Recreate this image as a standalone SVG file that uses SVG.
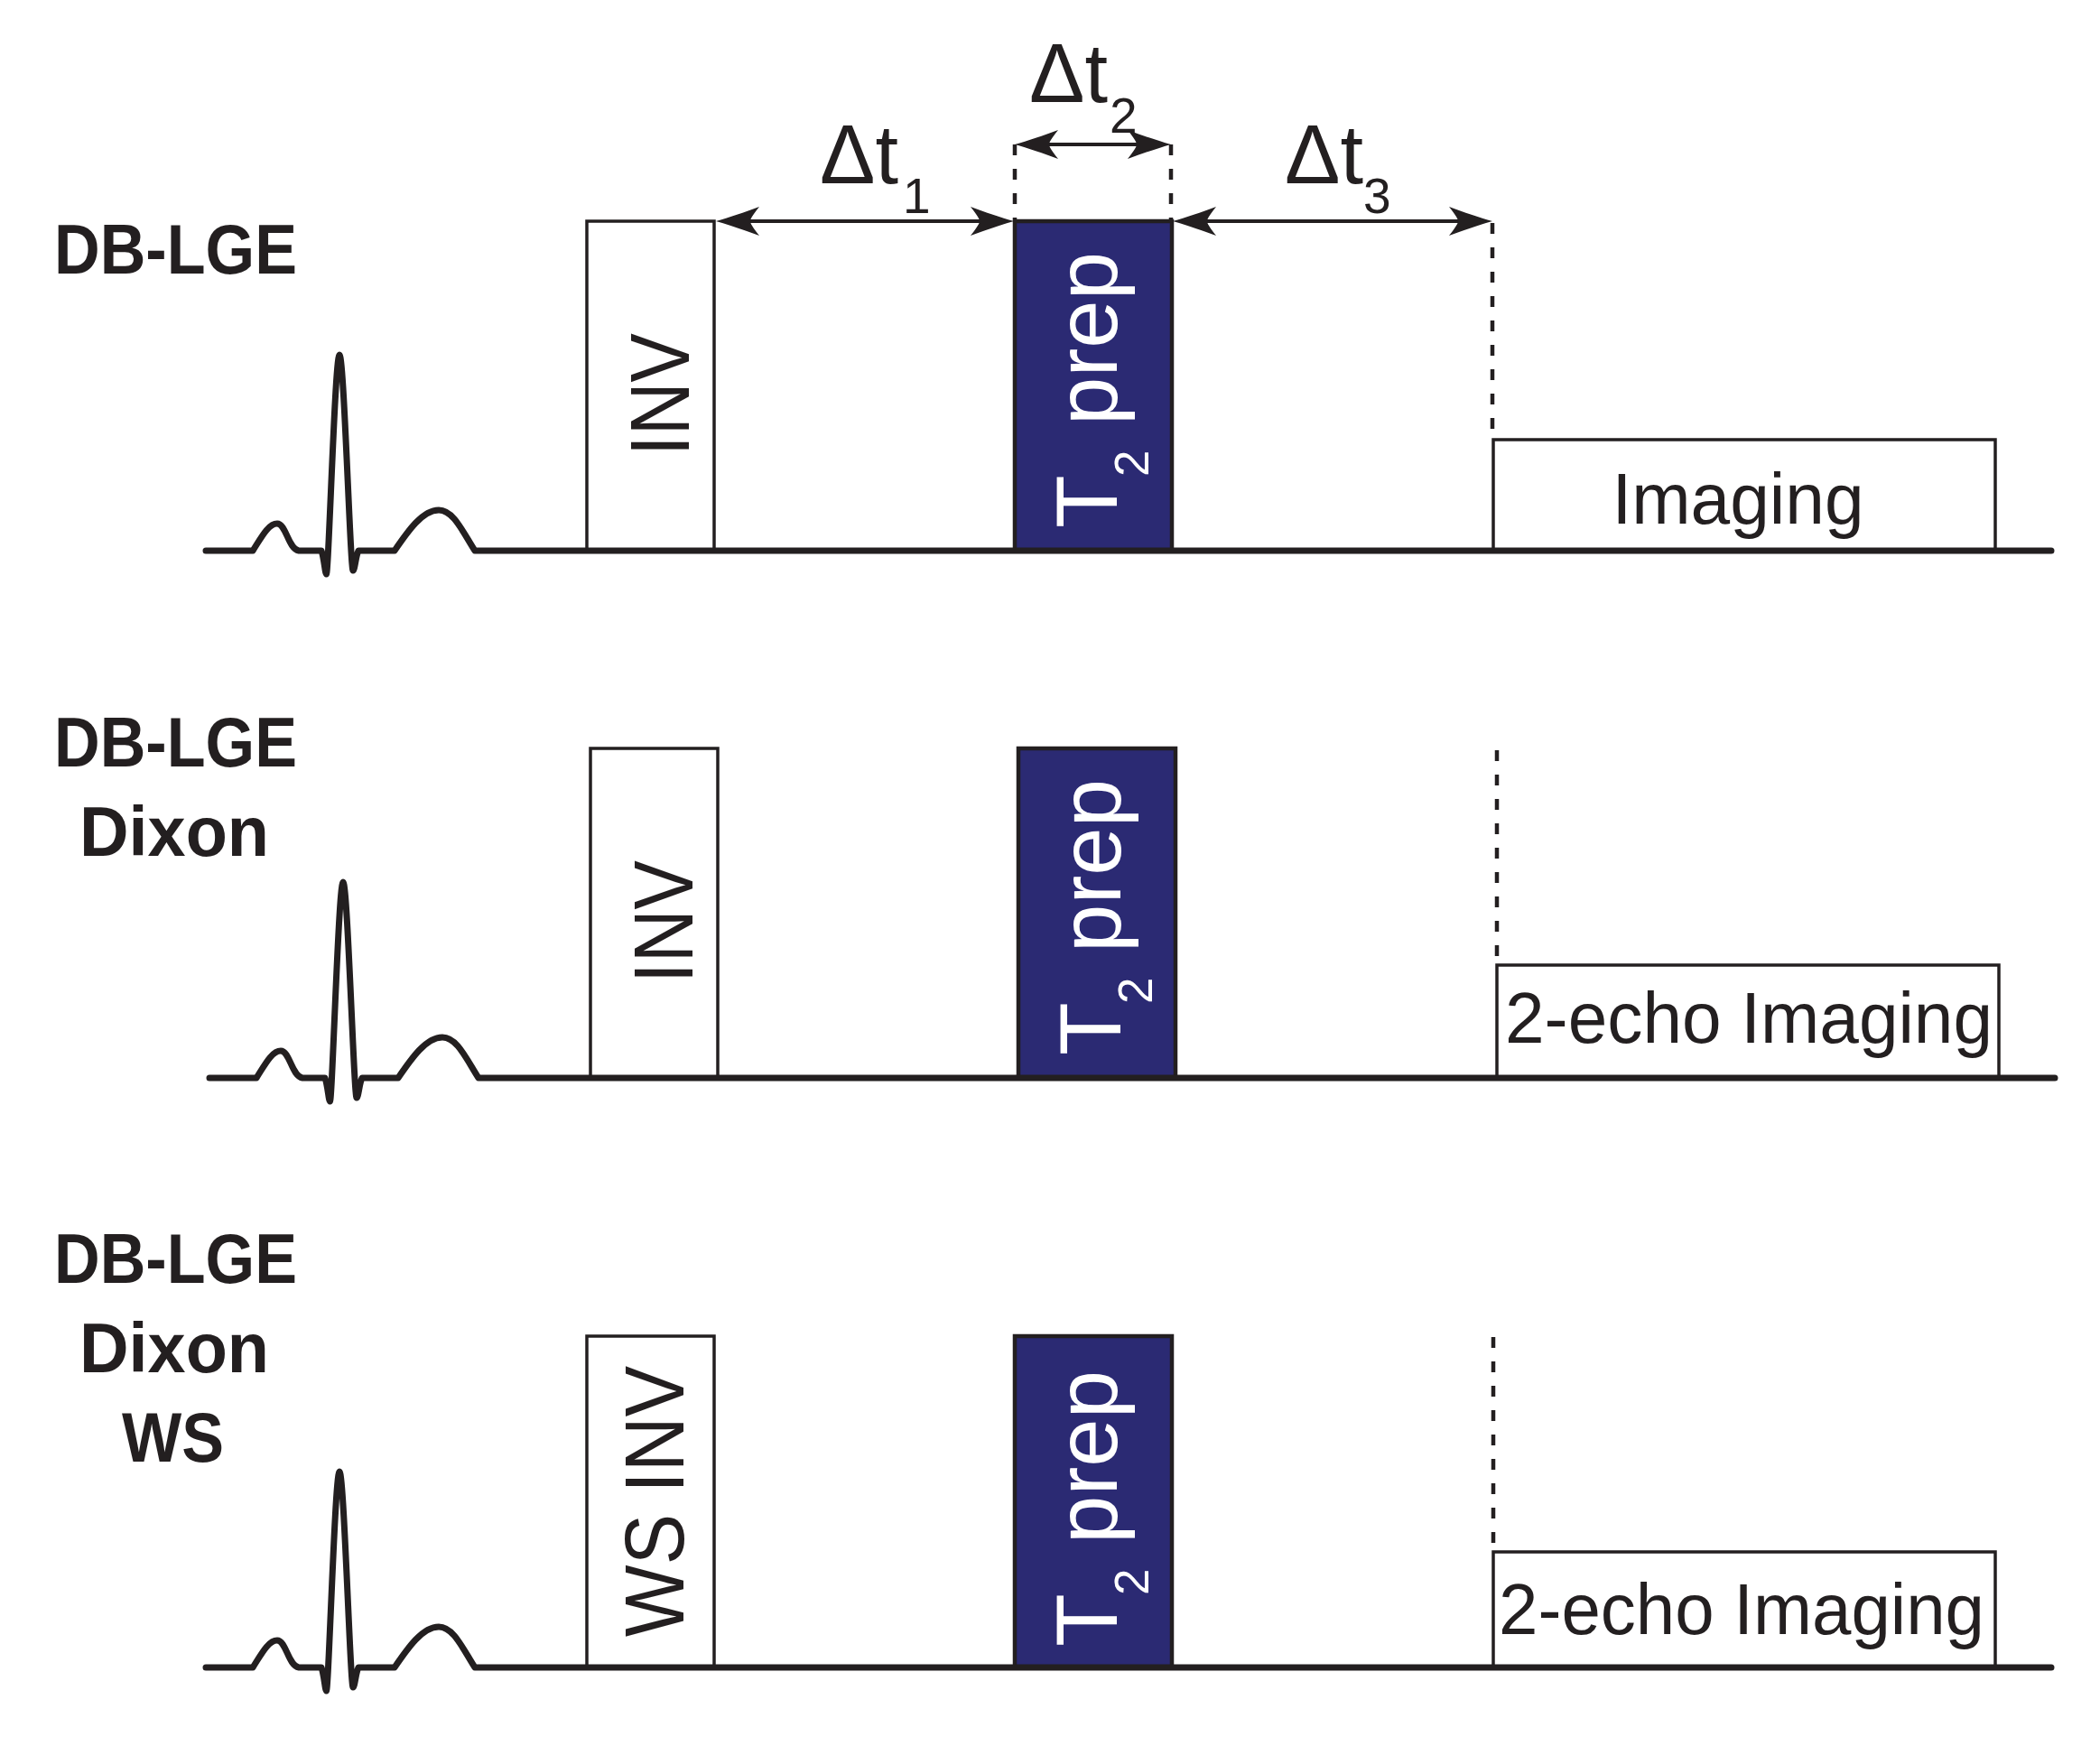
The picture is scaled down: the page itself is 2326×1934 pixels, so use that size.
<svg xmlns="http://www.w3.org/2000/svg" width="2326" height="1934" viewBox="0 0 2326 1934">
<defs>
<style>
.base{stroke:#231f20;stroke-width:7;fill:none;stroke-linecap:round;stroke-linejoin:round}
.box{fill:#fff;stroke:#231f20;stroke-width:3.5}
.prep{fill:#2b2a73;stroke:#231f20;stroke-width:4.5}
.dash{stroke:#231f20;stroke-width:4.5;stroke-dasharray:12 15;fill:none}
.arr{stroke:#231f20;stroke-width:4;fill:none;marker-start:url(#ah);marker-end:url(#ah)}
.t{font-family:"Liberation Sans",Arial,sans-serif;fill:#231f20}
.b{font-weight:bold;font-size:77px}
.r{font-size:92px}
.img{font-size:80px}
.w{fill:#fff;font-size:96px}
</style>
<marker id="ah" markerUnits="userSpaceOnUse" viewBox="-30 -17 52 34" refX="0" refY="0" markerWidth="52" markerHeight="34" orient="auto-start-reverse" overflow="visible">
<path d="M20,0 C6,-4 -12,-10 -28,-16 C-20,-6 -18,-2 -18,0 C-18,2 -20,6 -28,16 C-12,10 6,4 20,0 Z" fill="#231f20"/>
</marker>
</defs>
<rect width="2326" height="1934" fill="#fff"/>

<!-- Panel 1 -->
<g id="label1" class="t b" text-anchor="middle">
<text x="194.5" y="303" textLength="269" lengthAdjust="spacingAndGlyphs">DB-LGE</text>
</g>
<g id="inv1">
<rect class="box" x="650" y="245" width="141" height="365"/>
<text class="t r" text-anchor="middle" transform="translate(763,437) rotate(-90)" textLength="136" lengthAdjust="spacingAndGlyphs">INV</text>
</g>
<g id="t2prep1">
<rect class="prep" x="1124" y="245" width="174" height="365"/>
<text class="t w" transform="translate(1237,585) rotate(-90)"><tspan x="0" y="0">T</tspan><tspan x="57" y="35" font-size="53">2</tspan><tspan x="114" y="0">prep</tspan></text>
</g>
<g id="imaging1">
<rect class="box" x="1654" y="487" width="556" height="123"/>
<text class="t img" x="1925" y="580" text-anchor="middle" textLength="279" lengthAdjust="spacingAndGlyphs">Imaging</text>
</g>
<g id="ecg1">
<path class="base" transform="translate(0,610)" d="M228,0 H280 C289,-14 297,-30 307,-30 C317,-30 319,-2 331,0 H356 C359,8 360,26 361.5,26 C364,26 371,-217 376,-217 C381,-217 388,22 391,22 C393,22 394,6 397,0 H437 C452,-22 468,-45 486,-45 C502,-45 512,-22 526,0 H2272"/>
</g>
<g id="dt-labels" class="t r">
<text x="908" y="203">Δt<tspan x="1000" y="236" font-size="55">1</tspan></text>
<text x="1140" y="113">Δt<tspan x="1229" y="147" font-size="55">2</tspan></text>
<text x="1423" y="203">Δt<tspan x="1510" y="236" font-size="55">3</tspan></text>
</g>

<!-- Panel 2 -->
<g id="label2" class="t b" text-anchor="middle">
<text x="194.5" y="849" textLength="269" lengthAdjust="spacingAndGlyphs">DB-LGE</text>
<text x="193" y="948" textLength="210" lengthAdjust="spacingAndGlyphs">Dixon</text>
</g>
<g id="inv2">
<rect class="box" x="654" y="829" width="141" height="365"/>
<text class="t r" text-anchor="middle" transform="translate(767,1021) rotate(-90)" textLength="136" lengthAdjust="spacingAndGlyphs">INV</text>
</g>
<g id="t2prep2">
<rect class="prep" x="1128" y="829" width="174" height="365"/>
<text class="t w" transform="translate(1241,1169) rotate(-90)"><tspan x="0" y="0">T</tspan><tspan x="57" y="35" font-size="53">2</tspan><tspan x="114" y="0">prep</tspan></text>
</g>
<g id="imaging2">
<rect class="box" x="1658" y="1069" width="556" height="125"/>
<text class="t img" x="1937" y="1155" text-anchor="middle" textLength="540" lengthAdjust="spacingAndGlyphs">2-echo Imaging</text>
</g>
<g id="ecg2">
<path class="base" transform="translate(4,1194)" d="M228,0 H280 C289,-14 297,-30 307,-30 C317,-30 319,-2 331,0 H356 C359,8 360,26 361.5,26 C364,26 371,-217 376,-217 C381,-217 388,22 391,22 C393,22 394,6 397,0 H437 C452,-22 468,-45 486,-45 C502,-45 512,-22 526,0 H2272"/>
</g>

<!-- Panel 3 -->
<g id="label3" class="t b" text-anchor="middle">
<text x="194.5" y="1421" textLength="269" lengthAdjust="spacingAndGlyphs">DB-LGE</text>
<text x="193" y="1520" textLength="210" lengthAdjust="spacingAndGlyphs">Dixon</text>
<text x="191.5" y="1619" textLength="113" lengthAdjust="spacingAndGlyphs">WS</text>
</g>
<g id="wsinv3">
<rect class="box" x="650" y="1480" width="141" height="367"/>
<text class="t r" text-anchor="middle" transform="translate(757,1663) rotate(-90)" textLength="300" lengthAdjust="spacingAndGlyphs">WS INV</text>
</g>
<g id="t2prep3">
<rect class="prep" x="1124" y="1480" width="174" height="367"/>
<text class="t w" transform="translate(1237,1824) rotate(-90)"><tspan x="0" y="0">T</tspan><tspan x="57" y="35" font-size="53">2</tspan><tspan x="114" y="0">prep</tspan></text>
</g>
<g id="imaging3">
<rect class="box" x="1654" y="1719" width="556" height="128"/>
<text class="t img" x="1929" y="1810" text-anchor="middle" textLength="538" lengthAdjust="spacingAndGlyphs">2-echo Imaging</text>
</g>
<g id="ecg3">
<path class="base" transform="translate(0,1847)" d="M228,0 H280 C289,-14 297,-30 307,-30 C317,-30 319,-2 331,0 H356 C359,8 360,26 361.5,26 C364,26 371,-217 376,-217 C381,-217 388,22 391,22 C393,22 394,6 397,0 H437 C452,-22 468,-45 486,-45 C502,-45 512,-22 526,0 H2272"/>
</g>

<!-- Connectors -->
<g id="connectors">
<line class="arr" x1="813" y1="245" x2="1103" y2="245"/>
<line class="arr" x1="1144" y1="160" x2="1277" y2="160"/>
<line class="arr" x1="1319" y1="245" x2="1633" y2="245"/>
<line class="dash" x1="1124" y1="160" x2="1124" y2="243"/>
<line class="dash" x1="1297" y1="160" x2="1297" y2="243"/>
<line class="dash" x1="1653" y1="247" x2="1653" y2="485"/>
<line class="dash" x1="1658" y1="831" x2="1658" y2="1067"/>
<line class="dash" x1="1654" y1="1481" x2="1654" y2="1717"/>
</g>
</svg>
